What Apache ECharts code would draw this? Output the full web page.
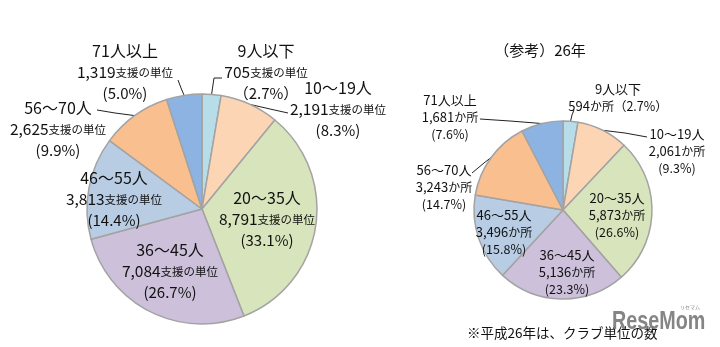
<!DOCTYPE html>
<html>
<head>
<meta charset="utf-8">
<script src="https://cdn.jsdelivr.net/npm/echarts@6/dist/echarts.min.js"></script>
<style>
html,body{margin:0;padding:0;background:#fff;}
#chart{width:720px;height:347px;}
</style>
</head>
<body>
<div id="chart"></div>
<script>
// ---- data ----
const categories = ['9人以下', '10～19人', '20～35人', '36～45人', '46～55人', '56～70人', '71人以上'];
const leftValues = [705, 2191, 8791, 7084, 3813, 2625, 1319];
const leftPercents = ['2.7', '8.3', '33.1', '26.7', '14.4', '9.9', '5.0'];
const rightValues = [594, 2061, 5873, 5136, 3496, 3243, 1681];
const rightPercents = ['2.7', '9.3', '26.6', '23.3', '15.8', '14.7', '7.6'];
const leftUnit = '支援の単位';
const rightUnit = 'か所';
const rightTitle = '（参考）26年';
const footnote = '※平成26年は、クラブ単位の数';

// ---- styles / layout ----
const colors = ['#b7dee8', '#fcd5b4', '#d7e4bc', '#ccc0da', '#b8cce4', '#fabf8f', '#8db3e2'];
const FONT = '"Noto Sans CJK JP", "Noto Sans", sans-serif';
const TXT = '#111111';
const leftLabelPos = [[266, 72], [338, 109], [267, 219], [170, 271], [114, 199], [58, 129], [125, 72]];
const leftLines = {0: [[214, 78], [222, 78]], 1: [[270, 109], [288, 113]], 5: [[115, 113], [97, 110]], 6: [[181, 88], [178, 80]]};
const rightLabelPos = [[618, 98], [677, 151], [617, 215], [567, 272], [504, 232], [444, 187], [450, 117]];
const rightLines = {0: [[572, 115], [574, 110]], 1: [[625, 133], [647, 137]], 5: [[484, 163], [472, 173]], 6: [[510, 121], [480, 119]]};

function fmtNum(v) { return String(v).replace(/\B(?=(\d{3})+(?!\d))/g, ','); }

function makeLayout(pos, lines) {
  return function (params) {
    const i = params.dataIndex;
    const p = pos[i];
    const res = {x: p[0], y: p[1], align: 'center', verticalAlign: 'middle'};
    if (lines[i] && params.labelLinePoints) {
      const s = params.labelLinePoints[0];
      res.labelLinePoints = [[s[0], s[1]], lines[i][0].slice(), lines[i][1].slice()];
    }
    return res;
  };
}

const leftData = categories.map((c, i) => ({
  name: c, value: leftValues[i],
  labelLine: {show: !!leftLines[i]}
}));
const rightData = categories.map((c, i) => ({
  name: c, value: rightValues[i],
  labelLine: {show: !!rightLines[i]}
}));

const chart = echarts.init(document.getElementById('chart'), null, {renderer: 'canvas'});
chart.setOption({
  animation: false,
  backgroundColor: '#ffffff',
  color: colors,
  graphic: [
    {type: 'text', style: {x: 540, y: 50, text: rightTitle, font: '15px ' + FONT, fill: TXT, align: 'center', verticalAlign: 'middle'}},
    {type: 'text', style: {x: 467, y: 333, text: footnote, font: '13.5px ' + FONT, fill: TXT, align: 'left', verticalAlign: 'middle'}},
    {type: 'text', z: 100, x: 612, y: 322, scaleX: 0.76, style: {x: 0, y: 0, text: 'ReseMom', font: 'bold 26px "Liberation Sans", sans-serif', fill: 'rgba(120,120,120,0.9)', align: 'left', verticalAlign: 'middle'}},
    {type: 'text', z: 100, style: {x: 690, y: 307, text: 'リセマム', font: '5px ' + FONT, fill: 'rgba(120,120,120,0.9)', align: 'center', verticalAlign: 'middle'}}
  ],
  series: [
    {
      type: 'pie',
      center: [202, 209],
      radius: 115,
      startAngle: 90,
      clockwise: true,
      avoidLabelOverlap: false,
      emphasis: {disabled: true},
      itemStyle: {borderColor: '#a3a3a3', borderWidth: 1.5},
      data: leftData,
      label: {
        show: true,
        position: 'outside',
        width: 180,
        overflow: 'none',
        formatter: function (p) {
          const i = p.dataIndex;
          const pct = i === 0 ? '（' + leftPercents[i] + '%）' : '(' + leftPercents[i] + '%)';
          return '{t|' + p.name + '}\n{n|' + fmtNum(leftValues[i]) + '}{u|' + leftUnit + '}\n{p|' + pct + '}';
        },
        rich: {
          t: {fontSize: 16, lineHeight: 22, fontFamily: FONT, color: TXT, align: 'center'},
          n: {fontSize: 15.5, lineHeight: 21, fontFamily: FONT, color: TXT, align: 'center'},
          u: {fontSize: 11.5, lineHeight: 21, fontFamily: FONT, color: TXT, align: 'center'},
          p: {fontSize: 15, lineHeight: 21, fontFamily: FONT, color: TXT, align: 'center'}
        }
      },
      labelLine: {show: true, length: 10, length2: 10, smooth: false, lineStyle: {color: '#222', width: 1}},
      labelLayout: makeLayout(leftLabelPos, leftLines)
    },
    {
      type: 'pie',
      center: [563, 210],
      radius: 89,
      startAngle: 90,
      clockwise: true,
      avoidLabelOverlap: false,
      emphasis: {disabled: true},
      itemStyle: {borderColor: '#a3a3a3', borderWidth: 1.5},
      data: rightData,
      label: {
        show: true,
        position: 'outside',
        width: 150,
        overflow: 'none',
        formatter: function (p) {
          const i = p.dataIndex;
          if (i === 0) {
            return '{t|' + p.name + '}\n{n|' + fmtNum(rightValues[i]) + '}{u|' + rightUnit + '}{p|（' + rightPercents[i] + '%）}';
          }
          return '{t|' + p.name + '}\n{n|' + fmtNum(rightValues[i]) + '}{u|' + rightUnit + '}\n{p|(' + rightPercents[i] + '%)}';
        },
        rich: {
          t: {fontSize: 13, lineHeight: 17, fontFamily: FONT, color: TXT, align: 'center'},
          n: {fontSize: 13, lineHeight: 17, fontFamily: FONT, color: TXT, align: 'center'},
          u: {fontSize: 12, lineHeight: 17, fontFamily: FONT, color: TXT, align: 'center'},
          p: {fontSize: 12.5, lineHeight: 17, fontFamily: FONT, color: TXT, align: 'center'}
        }
      },
      labelLine: {show: true, length: 8, length2: 8, smooth: false, lineStyle: {color: '#222', width: 1}},
      labelLayout: makeLayout(rightLabelPos, rightLines)
    }
  ]
});
</script>
</body>
</html>
